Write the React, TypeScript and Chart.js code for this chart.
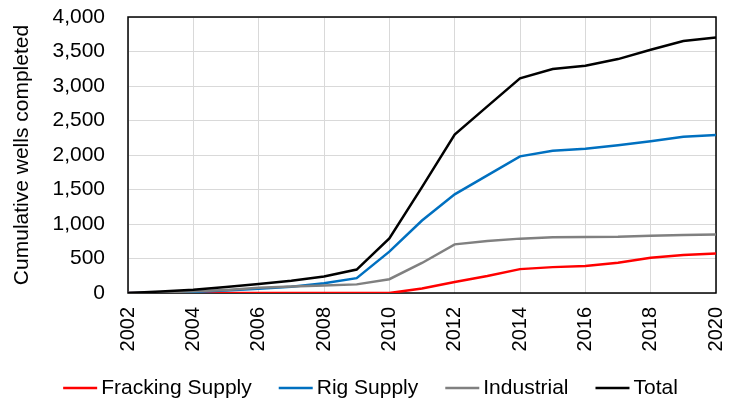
import React, { useEffect, useRef } from "react";
import { Chart, registerables } from "chart.js";

Chart.register(...registerables);

const years = [2002, 2003, 2004, 2005, 2006, 2007, 2008, 2009, 2010, 2011, 2012, 2013, 2014, 2015, 2016, 2017, 2018, 2019, 2020];
const frackingSupply = [0, 0, 0, 0, 0, 0, 0, 0, 0, 64, 160, 247, 346, 375, 392, 440, 510, 552, 572];
const rigSupply = [0, 5, 15, 35, 60, 90, 140, 215, 600, 1050, 1430, 1705, 1980, 2062, 2092, 2141, 2199, 2266, 2291];
const industrial = [0, 8, 25, 45, 75, 95, 110, 125, 200, 435, 705, 755, 788, 809, 813, 815, 828, 840, 848];
const total = [0, 22, 48, 88, 132, 178, 238, 340, 792, 1535, 2295, 2705, 3112, 3245, 3293, 3390, 3525, 3651, 3703];

const seriesNames = ["Fracking Supply", "Rig Supply", "Industrial", "Total"];
const seriesColors = ["#ff0000", "#0070c0", "#808080", "#000000"];
const yAxisTitle = "Cumulative wells completed";

const FONT = "'Liberation Sans', Arial, sans-serif";

const framePlugin = {
  id: "frame",
  beforeDatasetsDraw(chart: any) {
    const { ctx, chartArea } = chart;
    ctx.save();
    ctx.strokeStyle = "#000000";
    ctx.lineWidth = 1.5;
    ctx.strokeRect(chartArea.left, chartArea.top, chartArea.right - chartArea.left, chartArea.bottom - chartArea.top);
    ctx.restore();
  },
};

const legendPlugin = {
  id: "customLegend",
  afterDraw(chart: any) {
    const { ctx } = chart;
    const datasets = chart.data.datasets;
    const lineLen = 34;
    const gap = 4;
    const spacing = 27;
    const y = 388;
    ctx.save();
    ctx.font = `21px ${FONT}`;
    const widths = datasets.map((d: any) => ctx.measureText(d.label).width);
    let totalW = 0;
    widths.forEach((w: number, i: number) => {
      totalW += lineLen + gap + w + (i < widths.length - 1 ? spacing : 0);
    });
    let x = (chart.width - totalW) / 2;
    datasets.forEach((d: any, i: number) => {
      ctx.strokeStyle = d.borderColor;
      ctx.lineWidth = 2.5;
      ctx.beginPath();
      ctx.moveTo(x, y);
      ctx.lineTo(x + lineLen, y);
      ctx.stroke();
      ctx.fillStyle = "#000000";
      ctx.textAlign = "left";
      ctx.textBaseline = "middle";
      ctx.fillText(d.label, x + lineLen + gap, y);
      x += lineLen + gap + widths[i] + spacing;
    });
    ctx.restore();
  },
};

export default function App() {
  const canvasRef = useRef<HTMLCanvasElement | null>(null);

  useEffect(() => {
    if (!canvasRef.current) return;
    const seriesData = [frackingSupply, rigSupply, industrial, total];
    const chart = new Chart(canvasRef.current, {
      type: "line",
      data: {
        datasets: seriesNames.map((name, i) => ({
          label: name,
          data: years.map((yr, j) => ({ x: yr, y: seriesData[i][j] })),
          borderColor: seriesColors[i],
          backgroundColor: seriesColors[i],
          borderWidth: 2.5,
          pointRadius: 0,
          tension: 0,
          fill: false,
          order: 3 - i,
        })),
      },
      options: {
        animation: false,
        responsive: false,
        maintainAspectRatio: false,
        devicePixelRatio: 1,
        layout: { padding: 0 },
        plugins: {
          legend: { display: false },
          tooltip: { enabled: false },
        },
        scales: {
          x: {
            type: "linear",
            min: 2002,
            max: 2020,
            afterFit: (scale: any) => {
              scale.height = 109;
              scale.paddingLeft = 0;
              scale.paddingRight = 25;
              scale.paddingTop = 0;
              scale.paddingBottom = 0;
            },
            grid: { color: "#d9d9d9", lineWidth: 1, drawTicks: false },
            border: { display: false },
            ticks: {
              stepSize: 2,
              autoSkip: false,
              minRotation: 90,
              maxRotation: 90,
              padding: 14,
              color: "#000000",
              font: { family: FONT, size: 20 },
              callback: (v: any) => String(v),
            },
          },
          y: {
            min: 0,
            max: 4000,
            afterFit: (scale: any) => {
              scale.width = 128;
              scale.paddingTop = 17;
              scale.paddingBottom = 0;
              scale.paddingLeft = 0;
              scale.paddingRight = 0;
            },
            grid: { color: "#d9d9d9", lineWidth: 1, drawTicks: false },
            border: { display: false },
            ticks: {
              stepSize: 500,
              padding: 23,
              color: "#000000",
              font: { family: FONT, size: 21 },
              callback: (v: any) => Number(v).toLocaleString("en-US"),
            },
            title: {
              display: true,
              text: yAxisTitle,
              color: "#000000",
              font: { family: FONT, size: 21 },
              padding: { top: 10, bottom: 0 },
            },
          },
        },
      },
      plugins: [framePlugin, legendPlugin],
    });
    return () => chart.destroy();
  }, []);

  return (
    <div style={{ position: "fixed", left: 0, top: 0, width: 741, height: 402, background: "#ffffff" }}>
      <canvas ref={canvasRef} width={741} height={402} style={{ display: "block", width: 741, height: 402 }} />
    </div>
  );
}
